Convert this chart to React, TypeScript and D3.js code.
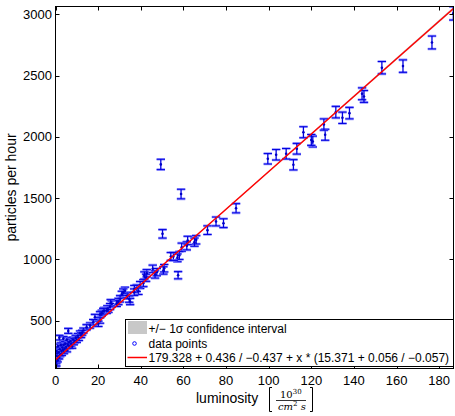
import React, { useEffect, useRef } from 'react';
import * as d3 from 'd3';

const lumi = [
  176.6, 186.6, 163.0, 153.1, 143.8, 144.7, 137.9, 134.6, 131.5, 126.5, 125.9, 120.7, 120.0, 116.3,
  113.2, 111.6, 108.2, 103.5, 99.6, 84.7, 78.8, 75.3, 71.3, 66.0, 65.2, 62.0, 61.6, 59.2, 58.1,
  57.2, 55.3, 54.1, 57.5, 58.9, 49.4, 50.2, 51.0, 50.6, 47.5, 45.6, 46.7, 42.8, 42.5, 41.7, 41.2,
  39.7, 38.1, 38.9, 37.0, 36.9, 35.0, 34.6, 33.7, 32.6, 31.8, 31.1, 30.3, 29.5, 28.7, 26.4, 25.9,
  25.6, 24.8, 24.3, 24.0, 22.8, 22.4, 21.7, 20.9, 20.9, 20.1, 18.5, 17.7, 16.2, 14.6, 13.1, 6.0,
  5.3, 3.7, 1.8,
  0.1, 0.2, 0.3, 0.4, 0.5, 0.6, 0.8, 1.0, 1.1, 1.3, 1.5, 1.7, 2.0, 2.2, 2.5, 2.8, 3.0, 3.2, 3.5,
  3.8, 4.0, 4.3, 4.6, 5.0, 5.4, 5.8, 6.2, 6.6, 7.0, 7.4, 7.8, 8.2, 8.6, 9.0, 9.5, 10.0, 10.5, 11.0,
  11.5, 12.0, 12.5,
];
const rate = [
  2771, 3009, 2578, 2565, 2352, 2330, 2194, 2156, 2202, 2017, 2101, 1962, 1975, 2038,
  1903, 1772, 1862, 1854, 1821, 1417, 1295, 1309, 1238, 1159, 1140, 1154, 1110, 1099, 1031,
  1012, 1023, 1023, 870, 1533, 1775, 1208, 927, 909, 895, 922, 876, 886, 849, 868, 805,
  790, 765, 740, 759, 731, 655, 675, 704, 745, 731, 712, 677, 655, 640, 636, 645,
  614, 590, 596, 582, 582, 575, 560, 549, 500, 473, 527, 486, 459, 445, 418, 415,
  342, 350, 360,
  119, 160, 210, 140, 250, 185, 230, 175, 290, 205, 240, 200, 265, 220, 300, 250, 230, 280, 260,
  300, 245, 270, 310, 285, 260, 300, 320, 290, 330, 310, 290, 345, 320, 335, 360, 340, 375, 355,
  395, 380, 400,
];

const xTicks = [0, 20, 40, 60, 80, 100, 120, 140, 160, 180];
const yTicks = [500, 1000, 1500, 2000, 2500, 3000];

// linear fit: offset and slope with asymmetric 1 sigma errors
const fitOffset = [179.328, 0.436, -0.437];
const fitSlope = [15.371, 0.056, -0.057];

const legendLabels = [
  '+/\u2212 1\u03c3 confidence interval',
  'data points',
  '179.328 + 0.436 / \u22120.437 + x * (15.371 + 0.056 / \u22120.057)',
];

const W = 455;
const H = 416;

function Chart() {
  const ref = useRef<SVGSVGElement | null>(null);

  useEffect(() => {
    const svg = d3.select(ref.current);
    svg.selectAll('*').remove();

    const left = 55.5, right = 453.5, top = 6.5, bottom = 368.5;
    const x = d3.scaleLinear().domain([0, 186.7]).range([left, right]);
    const y = d3.scaleLinear().domain([108, 3065]).range([bottom, top]);
    const font = 'Liberation Sans, Arial, Helvetica, sans-serif';

    svg.append('rect').attr('width', W).attr('height', H).attr('fill', '#fff');

    svg.append('clipPath').attr('id', 'plotclip')
      .append('rect')
      .attr('x', left).attr('y', top)
      .attr('width', right - left).attr('height', bottom - top);

    const plot = svg.append('g').attr('clip-path', 'url(#plotclip)');

    // confidence band
    const xs = [0, 186.7];
    plot.append('path')
      .datum(xs)
      .attr('fill', '#c8c8c8')
      .attr('d', d3.area<number>()
        .x((d) => x(d))
        .y0((d) => y(fitOffset[0] + fitOffset[2] + (fitSlope[0] + fitSlope[2]) * d))
        .y1((d) => y(fitOffset[0] + fitOffset[1] + (fitSlope[0] + fitSlope[1]) * d)));

    const pts = lumi.map((l, i) => ({ l, r: rate[i], e: Math.sqrt(rate[i]) }));
    const cap = 4.2;

    const bars = plot.append('g');
    pts.forEach((p) => {
      const cx = x(p.l);
      const y0 = y(p.r - p.e);
      const y1 = y(p.r + p.e);
      [y0, y1].forEach((yy) => {
        bars.append('line')
          .attr('x1', cx - cap).attr('x2', cx + cap)
          .attr('y1', yy).attr('y2', yy)
          .attr('stroke', '#7070ff').attr('stroke-width', 2.6).attr('stroke-opacity', 0.75);
        bars.append('line')
          .attr('x1', cx - cap).attr('x2', cx + cap)
          .attr('y1', yy).attr('y2', yy)
          .attr('stroke', '#0000e0').attr('stroke-width', 1);
      });
      bars.append('line')
        .attr('x1', cx).attr('x2', cx)
        .attr('y1', y0).attr('y2', y1)
        .attr('stroke', '#0000e0').attr('stroke-width', 1.3);
    });

    plot.append('g').selectAll('circle')
      .data(pts)
      .enter()
      .append('circle')
      .attr('cx', (d) => x(d.l))
      .attr('cy', (d) => y(d.r))
      .attr('r', 1.3)
      .attr('fill', '#0000c8');

    // fit line
    plot.append('path')
      .datum(xs)
      .attr('fill', 'none')
      .attr('stroke', '#ff0000')
      .attr('stroke-width', 1.5)
      .attr('d', d3.line<number>()
        .x((d) => x(d))
        .y((d) => y(fitOffset[0] + fitSlope[0] * d)));

    // axes box and inward ticks
    const axes = svg.append('g').attr('stroke', '#000').attr('stroke-width', 1);
    axes.append('rect')
      .attr('x', left).attr('y', top)
      .attr('width', right - left).attr('height', bottom - top)
      .attr('fill', 'none');
    const tl = 4;
    xTicks.forEach((t) => {
      const px = Math.round(x(t)) + 0.5;
      axes.append('line').attr('x1', px).attr('x2', px).attr('y1', bottom).attr('y2', bottom - tl);
      axes.append('line').attr('x1', px).attr('x2', px).attr('y1', top).attr('y2', top + tl);
    });
    yTicks.forEach((t) => {
      const py = Math.round(y(t)) + 0.5;
      axes.append('line').attr('y1', py).attr('y2', py).attr('x1', left).attr('x2', left + tl);
      axes.append('line').attr('y1', py).attr('y2', py).attr('x1', right).attr('x2', right - tl);
    });

    svg.append('g').selectAll('text')
      .data(xTicks)
      .enter()
      .append('text')
      .attr('x', (d) => x(d))
      .attr('y', 385)
      .attr('text-anchor', 'middle')
      .attr('font-family', font)
      .attr('font-size', 13)
      .text((d) => String(d));

    svg.append('g').selectAll('text')
      .data(yTicks)
      .enter()
      .append('text')
      .attr('x', 52)
      .attr('y', (d) => y(d) + 4.6)
      .attr('text-anchor', 'end')
      .attr('font-family', font)
      .attr('font-size', 13)
      .text((d) => String(d));

    // y label
    svg.append('text')
      .attr('transform', `translate(15.5,${(top + bottom) / 2}) rotate(-90)`)
      .attr('text-anchor', 'middle')
      .attr('font-family', font)
      .attr('font-size', 14)
      .text('particles per hour');

    // x label with unit fraction
    svg.append('text')
      .attr('x', 196)
      .attr('y', 403)
      .attr('font-family', font)
      .attr('font-size', 14)
      .text('luminosity');
    const serif = 'DejaVu Serif, Liberation Serif, serif';
    const br = svg.append('g').attr('stroke', '#000').attr('stroke-width', 1).attr('fill', 'none');
    br.append('path').attr('d', 'M272,387.5 H269.5 V411.5 H272');
    br.append('path').attr('d', 'M310,387.5 H312.5 V411.5 H310');
    br.append('line').attr('x1', 276).attr('x2', 306).attr('y1', 400.5).attr('y2', 400.5).attr('stroke-width', 0.8);
    const num = svg.append('text').attr('x', 280).attr('y', 397.5).attr('font-family', serif).attr('font-size', 10);
    num.append('tspan').text('10');
    num.append('tspan').attr('dy', -4).attr('font-size', 7).text('30');
    const den = svg.append('text').attr('x', 278).attr('y', 409.5).attr('font-family', serif).attr('font-size', 10).attr('font-style', 'italic');
    den.append('tspan').text('cm');
    den.append('tspan').attr('dy', -3.5).attr('font-size', 7).attr('font-style', 'normal').text('2');
    den.append('tspan').attr('dy', 3.5).text(' s');

    // legend
    const lg = svg.append('g');
    lg.append('rect')
      .attr('x', 125.5).attr('y', 319.5)
      .attr('width', 328).attr('height', 47)
      .attr('fill', '#fff').attr('stroke', '#000').attr('stroke-width', 1);
    lg.append('rect')
      .attr('x', 128).attr('y', 321).attr('width', 19).attr('height', 13)
      .attr('fill', '#c8c8c8');
    lg.append('circle')
      .attr('cx', 134.5).attr('cy', 343.5).attr('r', 1.8)
      .attr('fill', 'none').attr('stroke', '#0000ff').attr('stroke-width', 1);
    lg.append('line')
      .attr('x1', 127.5).attr('x2', 147).attr('y1', 357.5).attr('y2', 357.5)
      .attr('stroke', '#ff0000').attr('stroke-width', 1.5);
    lg.selectAll('text.lab')
      .data(legendLabels)
      .enter()
      .append('text')
      .attr('x', 148.5)
      .attr('y', (d, i) => 333 + i * 14.5)
      .attr('font-family', font)
      .attr('font-size', 12)
      .text((d) => d);
  }, []);

  return <svg ref={ref} width={W} height={H} style={{ position: 'absolute', left: 0, top: 0 }} />;
}

export default function App() {
  return (
    <div>
      <Chart />
    </div>
  );
}
